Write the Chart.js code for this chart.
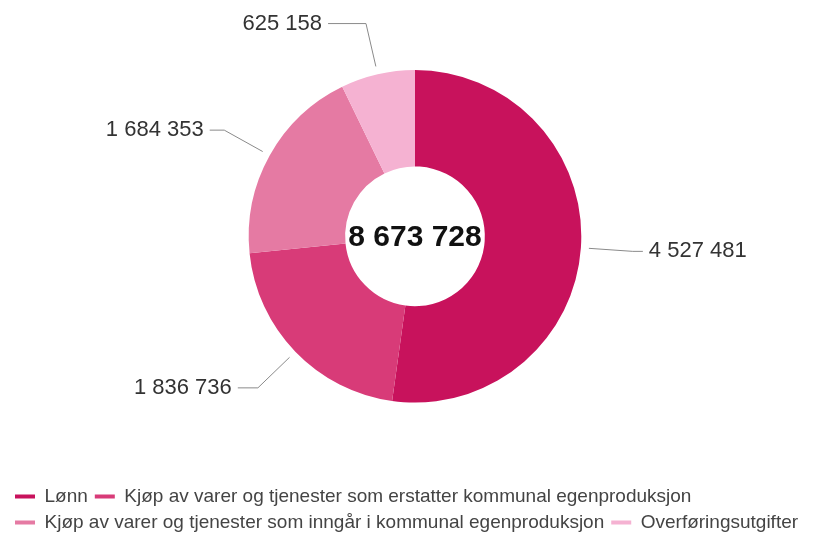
<!DOCTYPE html>
<html lang="no">
<head>
    <meta charset="UTF-8">
    <title>Driftsutgifter</title>
    <script src="https://cdn.jsdelivr.net/npm/chart.js"></script>
    <style>
        html, body { margin: 0; padding: 0; background: #fff; }
        #wrap { width: 822px; height: 535px; }
    </style>
</head>
<body>
    <div id="wrap"><canvas id="utgifterChart"></canvas></div>
    <script>
        // kategorier og verdier
        const categories = [
            'Lønn',
            'Kjøp av varer og tjenester som erstatter kommunal egenproduksjon',
            'Kjøp av varer og tjenester som inngår i kommunal egenproduksjon',
            'Overføringsutgifter'
        ];
        const amounts = [4527481, 1836736, 1684353, 625158];

        const sliceColors = ['#c8125c', '#d83b78', '#e57aa3', '#f5b2d2'];

        // 1234567 -> "1 234 567"
        function fmt(v) {
            return String(v).replace(/\B(?=(\d{3})+(?!\d))/g, ' ');
        }

        // tall utenfor ringen med strek, og totalsum i midten
        const labelPlugin = {
            id: 'outsideLabels',
            afterDatasetsDraw(chart) {
                const ctx = chart.ctx;
                const meta = chart.getDatasetMeta(0);
                const values = chart.data.datasets[0].data;
                let cx = 0, cy = 0;
                ctx.save();
                meta.data.forEach((arc, i) => {
                    const p = arc.getProps(['x', 'y', 'startAngle', 'endAngle', 'outerRadius'], true);
                    cx = p.x; cy = p.y;
                    const mid = (p.startAngle + p.endAngle) / 2;
                    const cos = Math.cos(mid), sin = Math.sin(mid);
                    const x1 = p.x + cos * (p.outerRadius + 8);
                    const y1 = p.y + sin * (p.outerRadius + 8);
                    const x2 = p.x + cos * (p.outerRadius + 52);
                    const y2 = p.y + sin * (p.outerRadius + 52);
                    const dir = cos >= 0 ? 1 : -1;
                    const h = 10 + 36 * (1 - Math.abs(cos));
                    const x3 = x2 + dir * h;

                    ctx.strokeStyle = '#8a8a8a';
                    ctx.lineWidth = 1;
                    ctx.beginPath();
                    ctx.moveTo(x1, y1);
                    ctx.lineTo(x2, y2);
                    ctx.lineTo(x3, y2);
                    ctx.stroke();

                    ctx.fillStyle = '#333';
                    ctx.font = '22px "Liberation Sans", Arial, sans-serif';
                    ctx.textBaseline = 'middle';
                    ctx.textAlign = dir > 0 ? 'left' : 'right';
                    ctx.fillText(fmt(values[i]), x3 + dir * 6, y2);
                });

                const total = values.reduce((a, b) => a + b, 0);
                ctx.fillStyle = '#111';
                ctx.font = 'bold 30px "Liberation Sans", Arial, sans-serif';
                ctx.textAlign = 'center';
                ctx.textBaseline = 'middle';
                ctx.fillText(fmt(total), cx, cy + 1);
                ctx.restore();
            }
        };

        new Chart(document.getElementById('utgifterChart'), {
            type: 'doughnut',
            data: {
                labels: categories,
                datasets: [{
                    data: amounts,
                    backgroundColor: sliceColors,
                    borderWidth: 0
                }]
            },
            options: {
                responsive: true,
                maintainAspectRatio: false,
                animation: false,
                cutout: '42%',
                layout: {
                    padding: { top: 70, left: 8, right: 0, bottom: -7 }
                },
                plugins: {
                    tooltip: { enabled: false },
                    legend: {
                        position: 'bottom',
                        align: 'start',
                        title: {
                            display: true,
                            text: '',
                            padding: { top: 63, bottom: 0 }
                        },
                        labels: {
                            boxWidth: 20,
                            boxHeight: 4,
                            padding: 7,
                            color: '#444',
                            font: { size: 19, family: '"Liberation Sans", Arial, sans-serif' }
                        }
                    }
                }
            },
            plugins: [labelPlugin]
        });
    </script>
</body>
</html>
